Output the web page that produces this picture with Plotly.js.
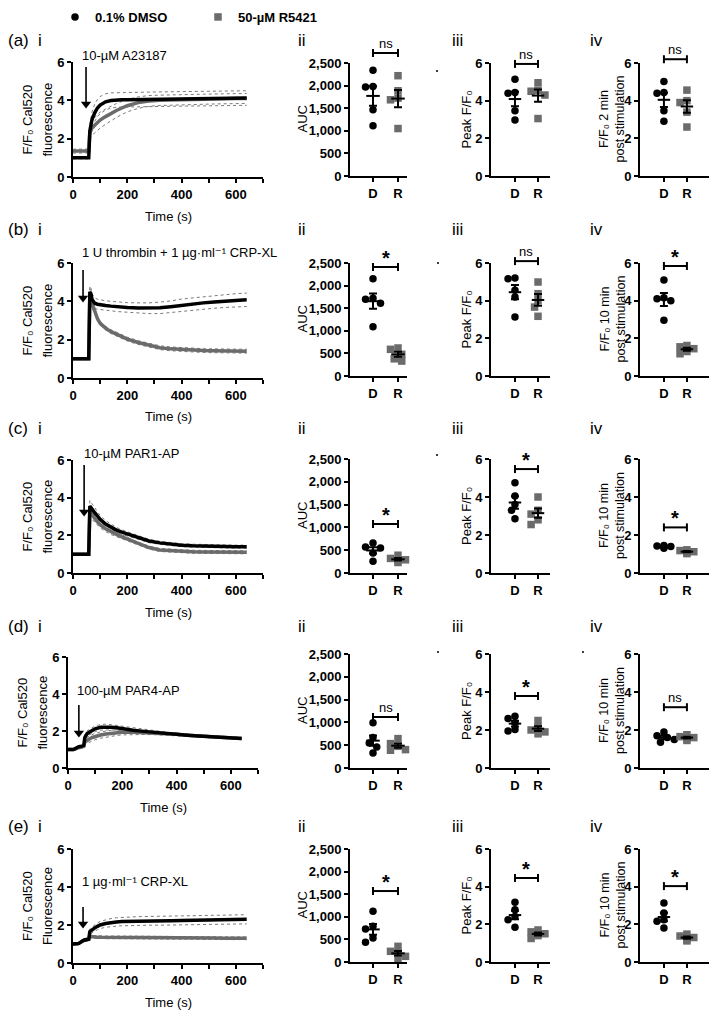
<!DOCTYPE html>
<html><head><meta charset="utf-8">
<script src="https://cdn.plot.ly/plotly-3.0.1.min.js"></script>
<style>html,body{margin:0;padding:0;background:#fff}#chart{width:709px;height:1011px}</style>
</head><body><div id="chart"></div>
<script>
// ---------------- DATA ----------------
const groupNames = ['0.1% DMSO', '50-µM R5421'];
const groupTicks = ['D', 'R'];
const rowLetters = ['(a)', '(b)', '(c)', '(d)', '(e)'];
const panelNumerals = ['i', 'ii', 'iii', 'iv'];
const stimulusLabels = ['10-µM A23187', '1 U thrombin + 1 µg·ml⁻¹ CRP-XL', '10-µM PAR1-AP', '100-µM PAR4-AP', '1 µg·ml⁻¹ CRP-XL'];
const timeTickVals = [0, 200, 400, 600];
const aucTickVals = [0, 500, 1000, 1500, 2000, 2500];
const ratioTickVals = [0, 2, 4, 6];
const sigAUC = ['ns', '*', '*', 'ns', '*'];
const sigPeak = ['ns', 'ns', '*', '*', '*'];
const sigPost = ['ns', '*', '*', 'ns', '*'];
const postMinutes = ['2 min', '10 min', '10 min', '10 min', '10 min'];

// time course (s)
const time = [0,20,40,50,58,62,66,70,80,90,100,120,140,160,180,200,240,280,320,360,400,440,480,520,560,600,640];

const dmsoA    = [1.0,1.0,1.0,1.0,1.0,2.4,2.75,3.0,3.35,3.6,3.75,3.92,3.99,4.02,4.03,4.03,4.04,4.05,4.06,4.07,4.08,4.08,4.09,4.1,4.1,4.11,4.12];
const dmsoSemA = [0.05,0.05,0.05,0.05,0.05,0.3,0.35,0.4,0.45,0.45,0.45,0.42,0.4,0.38,0.38,0.38,0.38,0.38,0.38,0.38,0.38,0.38,0.38,0.38,0.38,0.38,0.38];
const r5421A   = [1.35,1.36,1.36,1.36,1.36,2.3,2.45,2.55,2.7,2.85,2.97,3.15,3.32,3.47,3.6,3.72,3.88,3.97,4.0,4.02,4.04,4.05,4.06,4.07,4.08,4.09,4.1];
const r5421SemA= [0.1,0.1,0.1,0.1,0.1,0.25,0.3,0.35,0.4,0.42,0.42,0.4,0.38,0.36,0.34,0.32,0.3,0.28,0.27,0.27,0.26,0.26,0.26,0.26,0.26,0.26,0.26];

const dmsoB    = [1.0,1.0,1.0,1.0,1.0,4.5,4.4,4.1,3.9,3.85,3.82,3.78,3.75,3.72,3.7,3.68,3.65,3.64,3.66,3.72,3.8,3.86,3.92,3.97,4.02,4.05,4.08];
const dmsoSemB = [0.03,0.03,0.03,0.03,0.03,0.3,0.3,0.3,0.28,0.26,0.25,0.25,0.25,0.25,0.25,0.25,0.27,0.28,0.3,0.3,0.32,0.32,0.33,0.33,0.34,0.35,0.35];
const r5421B   = [1.0,1.0,1.0,1.0,1.0,4.35,4.2,3.9,3.45,3.1,2.85,2.6,2.42,2.28,2.15,2.03,1.85,1.7,1.58,1.52,1.48,1.45,1.43,1.42,1.41,1.4,1.4];
const r5421SemB= [0.03,0.03,0.03,0.03,0.03,0.3,0.25,0.2,0.15,0.12,0.1,0.1,0.1,0.1,0.1,0.1,0.1,0.1,0.1,0.1,0.1,0.1,0.1,0.1,0.1,0.1,0.1];

const dmsoC    = [1.0,1.0,1.0,1.0,1.0,3.55,3.5,3.4,3.2,3.0,2.85,2.6,2.42,2.28,2.17,2.08,1.88,1.7,1.6,1.53,1.48,1.45,1.43,1.42,1.41,1.4,1.4];
const dmsoSemC = [0.03,0.03,0.03,0.03,0.03,0.3,0.3,0.28,0.25,0.22,0.2,0.18,0.16,0.14,0.12,0.11,0.1,0.09,0.08,0.08,0.08,0.08,0.08,0.08,0.08,0.08,0.08];
const r5421C   = [1.0,1.0,1.0,1.0,1.0,3.3,3.2,3.1,2.9,2.72,2.56,2.35,2.18,2.05,1.92,1.8,1.55,1.35,1.22,1.18,1.15,1.13,1.12,1.11,1.1,1.1,1.1];
const r5421SemC= [0.03,0.03,0.03,0.03,0.03,0.25,0.25,0.25,0.2,0.18,0.16,0.15,0.14,0.12,0.1,0.1,0.08,0.08,0.08,0.08,0.08,0.08,0.08,0.08,0.08,0.08,0.08];

const dmsoD    = [1.0,1.0,1.15,1.2,1.22,1.65,1.75,1.85,1.95,2.05,2.12,2.2,2.22,2.2,2.17,2.12,2.04,1.98,1.92,1.87,1.82,1.77,1.73,1.69,1.66,1.63,1.6];
const dmsoSemD = [0.05,0.05,0.08,0.08,0.08,0.15,0.15,0.15,0.15,0.15,0.15,0.15,0.15,0.14,0.13,0.12,0.1,0.09,0.08,0.07,0.06,0.06,0.05,0.05,0.05,0.05,0.05];
const r5421D   = [1.0,1.0,1.1,1.15,1.17,1.4,1.45,1.5,1.58,1.65,1.7,1.78,1.84,1.88,1.91,1.93,1.93,1.91,1.89,1.86,1.82,1.77,1.73,1.69,1.66,1.63,1.6];
const r5421SemD= [0.05,0.05,0.08,0.08,0.08,0.12,0.14,0.15,0.16,0.17,0.17,0.17,0.17,0.16,0.15,0.14,0.12,0.1,0.09,0.08,0.07,0.06,0.06,0.05,0.05,0.05,0.05];

const dmsoE    = [1.0,1.02,1.2,1.22,1.25,1.65,1.7,1.75,1.85,1.93,2.0,2.08,2.13,2.16,2.18,2.19,2.21,2.22,2.22,2.23,2.24,2.25,2.26,2.27,2.28,2.29,2.3];
const dmsoSemE = [0.05,0.05,0.08,0.08,0.08,0.15,0.15,0.16,0.17,0.18,0.19,0.2,0.21,0.22,0.22,0.22,0.23,0.23,0.23,0.23,0.24,0.24,0.24,0.24,0.24,0.24,0.24];
const r5421E   = [1.0,1.02,1.2,1.22,1.25,1.4,1.4,1.38,1.37,1.36,1.35,1.35,1.35,1.35,1.34,1.34,1.33,1.33,1.33,1.32,1.32,1.32,1.31,1.31,1.3,1.3,1.3];
const r5421SemE= [0.05,0.05,0.08,0.08,0.08,0.1,0.07,0.07,0.07,0.07,0.07,0.07,0.07,0.07,0.07,0.07,0.07,0.07,0.07,0.07,0.07,0.07,0.07,0.07,0.07,0.07,0.07];

// individual donors: AUC, peak F/F0, F/F0 post stimulation
const aucA_D = [2337,1967,1982,1464,1109];  const aucA_R = [2219,1886,1723,1686,1050];
const peakA_D = [5.14,4.44,4.4,3.47,2.98]; const peakA_R = [4.95,4.55,4.5,4.3,3.05];
const postA_D = [5.02,4.39,4.44,3.47,2.91]; const postA_R = [4.56,4.0,3.9,3.39,2.6];

const aucB_D = [2151,1721,1699,1610,1091];  const aucB_R = [620,590,480,380,330];
const peakB_D = [5.2,5.17,4.55,4.2,3.13];  const peakB_R = [4.99,4.37,4.0,3.66,3.17];
const postB_D = [5.1,4.15,4.1,4.0,2.96];   const postB_R = [1.62,1.55,1.45,1.3,1.18];

const aucC_D = [658,570,548,439,256];       const aucC_R = [390,320,290,270,230];
const peakC_D = [4.75,4.05,3.6,3.3,2.85];  const peakC_R = [4.0,3.3,3.1,2.8,2.55];
const postC_D = [1.45,1.42,1.4,1.38,1.3];  const postC_R = [1.22,1.18,1.12,1.08,1.02];

const aucD_D = [990,667,550,462,330];       const aucD_R = [645,535,476,403,389];
const peakD_D = [2.73,2.6,2.38,2.02,1.95]; const peakD_R = [2.5,2.15,2.0,1.9,1.8];
const postD_D = [1.9,1.7,1.6,1.5,1.35];    const postD_R = [1.75,1.65,1.6,1.55,1.45];

const aucE_D = [1121,789,730,531,435];      const aucE_R = [347,236,199,125,52];
const peakE_D = [3.17,2.78,2.42,2.25,1.84]; const peakE_R = [1.7,1.6,1.5,1.4,1.25];
const postE_D = [3.13,2.6,2.25,2.16,1.8];  const postE_R = [1.48,1.38,1.3,1.2,1.12];

// ---------------- LAYOUT GEOMETRY (pixels) ----------------
const W = 709, H = 1011;
const px = x => x / W, py = y => 1 - y / H;
const FONT = 'Liberation Sans, Arial, Helvetica, DejaVu Sans, sans-serif';
const GREY = '#6b6b6b';
const geo = {
  iX0: [73, 73, 73, 68, 73], iW: 190,
  iTop: [62, 263, 460, 657, 849], iBot: [177, 378, 573, 768, 963],
  sTop: [63, 263, 459, 654, 849], sBot: [176, 376, 573, 768, 962],
  sX: [[350, 407], [491, 550], [640, 709]],
  sRange: [[-0.92, 1.36], [-1.04, 1.52], [-1.04, 1.96]],
  sTitleX: [302, 466, 612],
  labelY: [41, 229, 428, 626, 826],
  numeralX: [40, 302, 457, 596],
  stim: [[80, 56], [80, 253], [82, 453], [75, 690], [80, 881]],
  arrowX: [48, 37, 41, 40, 37], arrowHead: [3.6, 3.97, 3.03, 1.68, 1.84], arrowTail: [5.74, 5.63, 5.73, 3.4, 2.95],
  bracket: [[2721, 5.95, 6.2], [2411, 6.1, 5.84], [1075, 5.47, 2.4], [1118, 3.79, 3.2], [1570, 4.46, 4.03]],
  dots: [[437, 71], [438, 263], [437, 455], [438, 652], [583, 652]]
};

const rowsSpec = [
  {dm: dmsoA, ds: dmsoSemA, rm: r5421A, rs: r5421SemA, sets: [[aucA_D, aucA_R], [peakA_D, peakA_R], [postA_D, postA_R]]},
  {dm: dmsoB, ds: dmsoSemB, rm: r5421B, rs: r5421SemB, sets: [[aucB_D, aucB_R], [peakB_D, peakB_R], [postB_D, postB_R]]},
  {dm: dmsoC, ds: dmsoSemC, rm: r5421C, rs: r5421SemC, sets: [[aucC_D, aucC_R], [peakC_D, peakC_R], [postC_D, postC_R]]},
  {dm: dmsoD, ds: dmsoSemD, rm: r5421D, rs: r5421SemD, sets: [[aucD_D, aucD_R], [peakD_D, peakD_R], [postD_D, postD_R]]},
  {dm: dmsoE, ds: dmsoSemE, rm: r5421E, rs: r5421SemE, sets: [[aucE_D, aucE_R], [peakE_D, peakE_R], [postE_D, postE_R]]}
];
const sigs = [sigAUC, sigPeak, sigPost];

// ---------------- HELPERS ----------------
function axisBase() {
  return {showline: true, linewidth: 2, linecolor: '#000', ticks: 'outside', ticklen: 4, tickwidth: 2,
    tickcolor: '#000', showgrid: false, zeroline: false, fixedrange: true, automargin: false,
    tickfont: {family: FONT, size: 13, weight: 'bold', color: '#000'}};
}
function mean(a) { return a.reduce((s, v) => s + v, 0) / a.length; }
function sem(a) { const m = mean(a); const v = a.reduce((s, x) => s + (x - m) * (x - m), 0) / (a.length - 1); return Math.sqrt(v / a.length); }
function swarm(vals, pxX, pxY, d) {
  const order = vals.map((v, i) => i).sort((a, b) => vals[b] - vals[a]);
  const offs = new Array(vals.length); const placed = [];
  const cands = [0, -0.15, 0.15, -0.3, 0.3, -0.45, 0.45];
  for (const i of order) {
    let chosen = 0;
    for (const c of cands) {
      const ok = placed.every(j => { const dx = (c - offs[j]) * pxX, dy = (vals[i] - vals[j]) * pxY; return dx * dx + dy * dy >= d * d; });
      if (ok) { chosen = c; break; }
    }
    offs[i] = chosen; placed.push(i);
  }
  return offs;
}

const traces = [], annotations = [], shapes = [];
const layout = {
  width: W, height: H, margin: {l: 0, r: 0, t: 0, b: 0}, paper_bgcolor: '#fff', plot_bgcolor: 'rgba(0,0,0,0)',
  font: {family: FONT, color: '#000', size: 12},
  showlegend: true,
  legend: {orientation: 'h', x: px(55), y: py(2), xanchor: 'left', yanchor: 'top',
    font: {family: FONT, size: 13, weight: 'bold', color: '#000'}, entrywidth: 98, entrywidthmode: 'pixels',
    bgcolor: 'rgba(0,0,0,0)', traceorder: 'normal'},
  annotations, shapes
};
function txt(x, y, text, opts) {
  annotations.push(Object.assign({xref: 'paper', yref: 'paper', x: px(x), y: py(y), text, showarrow: false,
    xanchor: 'center', yanchor: 'middle', font: {family: FONT, size: 12, color: '#000'}}, opts || {}));
}
const blackLine = {color: '#000', width: 2};

rowsSpec.forEach((row, r) => {
  // ---- panel i: time course ----
  const n = r * 4 + 1;
  const xr = n === 1 ? 'x' : 'x' + n, yr = n === 1 ? 'y' : 'y' + n;
  const x0 = geo.iX0[r];
  layout['xaxis' + (n === 1 ? '' : n)] = Object.assign(axisBase(), {domain: [px(x0), px(x0 + geo.iW)], range: [0, 700],
    tickmode: 'array', tickvals: timeTickVals, anchor: yr,
    minor: {tickmode: 'linear', tick0: 0, dtick: 100, ticks: 'outside', ticklen: 4, tickwidth: 2, tickcolor: '#000', showgrid: false}});
  layout['yaxis' + (n === 1 ? '' : n)] = Object.assign(axisBase(), {domain: [py(geo.iBot[r]), py(geo.iTop[r])], range: [0, 6],
    tickmode: 'array', tickvals: ratioTickVals, anchor: xr});
  const dot = {color: '#7a7a7a', width: 1, dash: 'dot'};
  const band = (m, s, sign) => m.map((v, i) => v + sign * s[i]);
  [[row.dm, row.ds], [row.rm, row.rs]].forEach(([m, s]) => {
    [1, -1].forEach(sg => traces.push({type: 'scatter', mode: 'lines', x: time, y: band(m, s, sg), xaxis: xr, yaxis: yr,
      line: dot, showlegend: false, hoverinfo: 'skip'}));
  });
  traces.push({type: 'scatter', mode: 'lines', x: time, y: row.rm, xaxis: xr, yaxis: yr, line: {color: GREY, width: 3.5}, showlegend: false, name: groupNames[1]});
  traces.push({type: 'scatter', mode: 'lines', x: time, y: row.dm, xaxis: xr, yaxis: yr, line: {color: '#000', width: 3.5}, showlegend: false, name: groupNames[0]});
  // stimulus arrow
  const pxPerUnit = (geo.iBot[r] - geo.iTop[r]) / 6;
  const tipOff = 4 / pxPerUnit;
  traces.push({type: 'scatter', mode: 'lines', x: [geo.arrowX[r], geo.arrowX[r]], y: [geo.arrowTail[r], geo.arrowHead[r] + tipOff],
    xaxis: xr, yaxis: yr, line: {color: '#000', width: 1.6}, showlegend: false, hoverinfo: 'skip'});
  traces.push({type: 'scatter', mode: 'markers', x: [geo.arrowX[r]], y: [geo.arrowHead[r] + tipOff], xaxis: xr, yaxis: yr,
    marker: {symbol: 'triangle-down', size: 9, color: '#000', line: {width: 0}}, showlegend: false, hoverinfo: 'skip', cliponaxis: false});
  txt(geo.stim[r][0], geo.stim[r][1], stimulusLabels[r], {xanchor: 'left', font: {family: FONT, size: 13, color: '#000'}});
  const yc = (geo.iTop[r] + geo.iBot[r]) / 2;
  txt(x0 - 46, yc, 'F/F₀ Cal520', {textangle: -90, font: {family: FONT, size: 13, color: '#000'}});
  txt(x0 - 26, yc, r === 4 ? 'Fluorescence' : 'fluorescence', {textangle: -90, font: {family: FONT, size: 13, color: '#000'}});
  txt(x0 + geo.iW / 2, geo.iBot[r] + 39, 'Time (s)', {font: {family: FONT, size: 13, color: '#000'}});
  txt(6, geo.labelY[r], rowLetters[r], {xanchor: 'left', font: {family: FONT, size: 17, color: '#000'}});
  txt(geo.numeralX[0], geo.labelY[r], panelNumerals[0], {font: {family: FONT, size: 17, color: '#000'}});

  // ---- panels ii–iv: dot plots ----
  row.sets.forEach((pair, p) => {
    const k = n + 1 + p;
    const xk = 'x' + k, yk = 'y' + k;
    const isAuc = p === 0;
    const ymax = isAuc ? 2500 : 6;
    const [xa, xb] = geo.sX[p];
    const rng = geo.sRange[p];
    const top = geo.sTop[r], bot = geo.sBot[r];
    const pxX = (xb - xa) / (rng[1] - rng[0]), pxY = (bot - top) / ymax;
    layout['xaxis' + k] = Object.assign(axisBase(), {domain: [px(xa), px(xb)], range: rng, tickmode: 'array',
      tickvals: [0, 1], ticktext: groupTicks, anchor: yk});
    layout['yaxis' + k] = Object.assign(axisBase(), {domain: [py(bot), py(top)], range: [0, ymax], tickmode: 'array',
      tickvals: isAuc ? aucTickVals : ratioTickVals, tickformat: ',', anchor: xk});
    pair.forEach((vals, g) => {
      const offs = swarm(vals, pxX, pxY, 6.5);
      traces.push({type: 'scatter', mode: 'markers', x: offs.map(o => g + o), y: vals, xaxis: xk, yaxis: yk,
        marker: {symbol: g === 0 ? 'circle' : 'square', size: 7.5, color: g === 0 ? '#000' : GREY},
        name: groupNames[g], legendgroup: 'g' + g, showlegend: r === 0 && p === 0, cliponaxis: false});
    });
    const m = pair.map(mean), s = pair.map(sem);
    traces.push({type: 'scatter', mode: 'lines', x: [-0.27, 0.27, null, 0.73, 1.27], y: [m[0], m[0], null, m[1], m[1]],
      xaxis: xk, yaxis: yk, line: {color: '#000', width: 2}, showlegend: false, hoverinfo: 'skip', cliponaxis: false});
    traces.push({type: 'scatter', mode: 'markers', x: [0, 1], y: m, xaxis: xk, yaxis: yk, marker: {size: 1, color: 'rgba(0,0,0,0)'},
      error_y: {type: 'data', array: s, visible: true, color: '#000', thickness: 2, width: 4}, showlegend: false, hoverinfo: 'skip', cliponaxis: false});
    // significance bracket (domain-referenced so it may sit above the axis)
    const f = geo.bracket[r][p] / ymax, dd = 4 / (bot - top);
    const yd = yk + ' domain';
    shapes.push({type: 'line', xref: xk, yref: yd, x0: 0, x1: 1, y0: f, y1: f, line: blackLine});
    shapes.push({type: 'line', xref: xk, yref: yd, x0: 0, x1: 0, y0: f - dd, y1: f + dd, line: blackLine});
    shapes.push({type: 'line', xref: xk, yref: yd, x0: 1, x1: 1, y0: f - dd, y1: f + dd, line: blackLine});
    const star = sigs[p][r] === '*';
    annotations.push({xref: xk, yref: yd, x: 0.5, y: f, text: sigs[p][r], showarrow: false, xanchor: 'center', yanchor: 'bottom',
      yshift: star ? -4 : 0, font: {family: FONT, size: star ? 20 : 13, weight: star ? 'bold' : 'normal', color: '#000'}});
    const yc2 = (top + bot) / 2;
    const title = p === 0 ? 'AUC' : p === 1 ? 'Peak F/F₀' : 'F/F₀ ' + postMinutes[r] + '<br>post stimulation';
    txt(geo.sTitleX[p], yc2, title, {textangle: -90, font: {family: FONT, size: p === 2 ? 12.5 : 13, color: '#000'}});
    txt(geo.numeralX[p + 1], geo.labelY[r], panelNumerals[p + 1], {font: {family: FONT, size: 17, color: '#000'}});
  });
});

geo.dots.forEach(([x, y]) => shapes.push({type: 'circle', xref: 'paper', yref: 'paper', x0: px(x - 1), x1: px(x + 1), y0: py(y + 1), y1: py(y - 1),
  fillcolor: '#000', line: {width: 0}}));

Plotly.newPlot('chart', traces, layout, {displayModeBar: false, staticPlot: true});
</script>
</body></html>
